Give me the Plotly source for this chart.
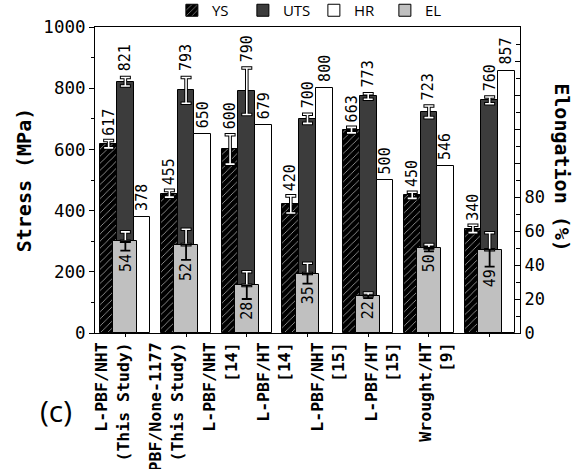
import plotly.graph_objects as go

# ---------------- data ----------------
categories = [
    "L-PBF/NHT<br>(This Study)",
    "L-PBF/None-1177<br>(This Study)",
    "L-PBF/NHT<br>[14]",
    "L-PBF/HT<br>[14]",
    "L-PBF/NHT<br>[15]",
    "L-PBF/HT<br>[15]",
    "Wrought/HT<br>[9]",
]
ys = [617, 455, 600, 420, 663, 450, 340]
ys_err = [12, 11, 48, 28, 9, 10, 12]
uts = [821, 793, 790, 700, 773, 723, 760]
uts_err = [14, 42, 76, 15, 9, 19, 11]
hr = [378, 650, 679, 800, 500, 546, 857]
el = [54, 52, 28, 35, 22, 50, 49]
el_err = [5.5, 9, 8, 6, 1.5, 2, 10]

stress_ticks = [0, 200, 400, 600, 800, 1000]
el_ticks = [0, 20, 40, 60, 80, 100, 120, 140, 160, 180]
el_tick_labels = ["0", "20", "40", "60", "80", "", "", "", "", ""]

# ---------------- styling ----------------
MONO = "DejaVu Sans Mono"
BW = 0.275      # width of YS / UTS / HR bars (category units)
ELW = 0.395     # width of EL bar
UTS_COLOR = "#3c3c3c"
EL_COLOR = "#c0c0c0"

idx = list(range(len(categories)))
x_ys = [i - BW for i in idx]
x_uts = [i for i in idx]
x_hr = [i + BW for i in idx]
x_el = [i for i in idx]

fig = go.Figure()

outline = dict(color="black", width=1)

fig.add_trace(go.Bar(
    name="YS", x=x_ys, y=ys, width=BW, yaxis="y", xaxis="x",
    marker=dict(color="black", line=outline,
                pattern=dict(shape="/", fgcolor="#b0b0b0", bgcolor="black",
                             size=5, solidity=0.15, fillmode="replace")),
    hoverinfo="skip",
))
fig.add_trace(go.Bar(
    name="UTS", x=x_uts, y=uts, width=BW, yaxis="y", xaxis="x",
    marker=dict(color=UTS_COLOR, line=outline), hoverinfo="skip",
))
fig.add_trace(go.Bar(
    name="HR", x=x_hr, y=hr, width=BW, yaxis="y", xaxis="x",
    marker=dict(color="white", line=outline), hoverinfo="skip",
))
fig.add_trace(go.Bar(
    name="EL", x=x_el, y=el, width=ELW, yaxis="y2", xaxis="x",
    marker=dict(color=EL_COLOR, line=outline), hoverinfo="skip",
))

# error bars: black outline + white core
def err_layer(xv, yv, up, down, color, thick, w, yaxis):
    return go.Scatter(
        x=xv, y=yv, mode="markers", xaxis="x", yaxis=yaxis,
        marker=dict(size=1, opacity=0),
        error_y=dict(type="data", symmetric=False, array=up, arrayminus=down,
                     color=color, thickness=thick, width=w),
        showlegend=False, hoverinfo="skip",
    )

for xv, yv, ev in [(x_ys, ys, ys_err), (x_uts, uts, uts_err)]:
    fig.add_trace(err_layer(xv, yv, ev, ev, "black", 3.6, 5.5, "y"))
    fig.add_trace(err_layer(xv, yv, ev, ev, "white", 1.6, 4.5, "y"))

zeros = [0] * len(el)
# EL: upper part white (outlined), lower part black
fig.add_trace(err_layer(x_el, el, el_err, zeros, "black", 3.6, 5.5, "y2"))
fig.add_trace(err_layer(x_el, el, el_err, zeros, "white", 1.6, 4.5, "y2"))
fig.add_trace(err_layer(x_el, el, zeros, el_err, "black", 1.8, 5, "y2"))

# dummy trace for the category-label axis
fig.add_trace(go.Scatter(
    x=idx, y=[0] * len(idx), xaxis="x2", yaxis="y", mode="markers",
    marker=dict(size=1, opacity=0), showlegend=False, hoverinfo="skip",
))

# ---------------- value labels ----------------
ann = []
lab_font = dict(family=MONO, size=15, color="black")
for i in idx:
    ann.append(dict(x=x_ys[i], y=ys[i] + ys_err[i], xref="x", yref="y",
                    text=str(ys[i]), textangle=-90, showarrow=False,
                    xanchor="center", yanchor="bottom", yshift=3, font=lab_font))
    ann.append(dict(x=x_uts[i], y=uts[i] + uts_err[i], xref="x", yref="y",
                    text=str(uts[i]), textangle=-90, showarrow=False,
                    xanchor="center", yanchor="bottom", yshift=4, font=lab_font))
    ann.append(dict(x=x_hr[i], y=hr[i], xref="x", yref="y",
                    text=str(hr[i]), textangle=-90, showarrow=False,
                    xanchor="center", yanchor="bottom", yshift=4, font=lab_font))
    ann.append(dict(x=x_el[i], y=el[i] - el_err[i], xref="x", yref="y2",
                    text=str(el[i]), textangle=-90, showarrow=False,
                    xanchor="center", yanchor="top", yshift=-1, font=lab_font))

ann.append(dict(x=1.10, y=0.54, xref="paper", yref="paper",
                text="<b>Elongation (%)</b>", textangle=90, showarrow=False,
                xanchor="center", yanchor="middle",
                font=dict(family=MONO, size=20, color="black")))
ann.append(dict(x=-0.091, y=-0.252, xref="paper", yref="paper",
                text="(c)", showarrow=False, xanchor="center", yanchor="middle",
                font=dict(family="Open Sans", size=30, color="black")))

fig.update_layout(
    width=582, height=469,
    margin=dict(l=95, r=62, t=27, b=136, autoexpand=False),
    paper_bgcolor="white", plot_bgcolor="white",
    barmode="overlay", bargap=0,
    showlegend=True,
    legend=dict(orientation="h", x=0.515, xanchor="center", y=1.0, yanchor="bottom",
                font=dict(family="Open Sans", size=15, color="black"),
                entrywidth=26, entrywidthmode="pixels",
                bgcolor="rgba(0,0,0,0)", borderwidth=0),
    xaxis=dict(range=[-0.5, 6.5], tickvals=idx, showticklabels=False,
               ticks="outside", ticklen=3, tickcolor="black",
               showline=True, linecolor="black", linewidth=1, mirror=True,
               showgrid=False, zeroline=False),
    xaxis2=dict(overlaying="x", anchor="y", side="bottom",
                range=[-0.33, 7.56], tickvals=idx, ticktext=categories,
                tickangle=-90, ticks="", showline=False, showgrid=False,
                zeroline=False, ticklabelstandoff=5,
                tickfont=dict(family=MONO, size=16.5, color="black", weight="bold")),
    yaxis=dict(range=[0, 1000], tickvals=stress_ticks,
               ticks="outside", ticklen=5, tickcolor="black",
               minor=dict(dtick=100, ticks="outside", ticklen=3, tickcolor="black"),
               showline=True, linecolor="black", linewidth=1,
               showgrid=False, zeroline=False,
               tickfont=dict(family=MONO, size=17.5, color="black"),
               title=dict(text="<b>Stress (MPa)</b>", standoff=6,
                          font=dict(family=MONO, size=20, color="black"))),
    yaxis2=dict(overlaying="y", side="right", anchor="x", range=[0, 180],
                tickvals=el_ticks, ticktext=el_tick_labels,
                ticks="inside", ticklen=5, tickcolor="black",
                minor=dict(dtick=10, ticks="inside", ticklen=4, tickcolor="black"),
                showline=True, linecolor="black", linewidth=1,
                showgrid=False, zeroline=False,
                tickfont=dict(family=MONO, size=17, color="black")),
    annotations=ann,
)

fig.write_html("out.html", config={"displayModeBar": False},
               post_script="document.body.style.margin='0px';")
